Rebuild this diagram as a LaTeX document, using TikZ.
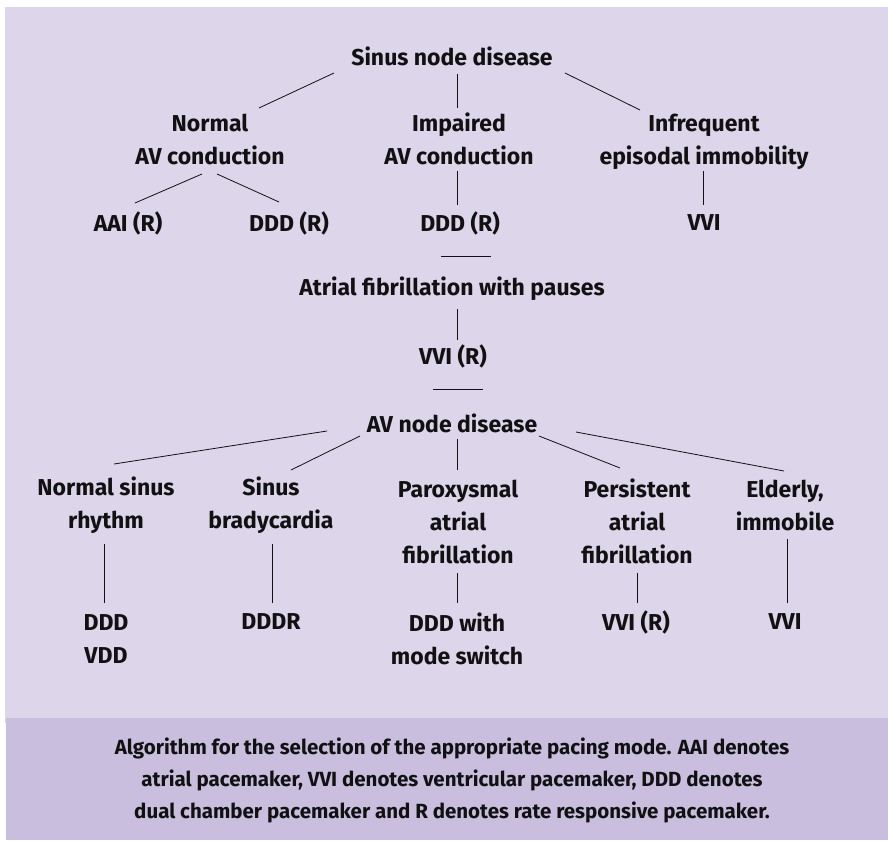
\documentclass[tikz,border=0pt]{standalone}
\usepackage{fontspec}
\setmainfont{Fira Sans}
\definecolor{bgl}{HTML}{DDD5E9}
\definecolor{bgd}{HTML}{C9BEDD}
\definecolor{ink}{HTML}{111111}
\begin{document}
\begin{tikzpicture}[x=1pt,y=-1pt,
  lbl/.style={font=\bfseries\fontsize{23}{33}\selectfont, align=center, inner sep=0pt, text=ink},
  captext/.style={font=\bfseries\fontsize{20.5}{32}\selectfont, align=center, inner sep=0pt, text=ink},
  ln/.style={line width=0.8pt, draw=ink}]
\useasboundingbox (0,0) rectangle (888,840);
\fill[bgl] (5,7) rectangle (888,723);
\fill[bgd] (6,718) rectangle (888,840);
% nodes
\node[lbl] (sinus) at (452,56) {Sinus node disease};
\node[lbl] (normal) at (210,139) {Normal\\AV conduction};
\node[lbl] (impaired) at (459,139) {Impaired\\AV conduction};
\node[lbl] (infreq) at (704,142) {Infrequent\\episodal immobility};
\node[lbl] (aai) at (128,223) {AAI (R)};
\node[lbl] (dddl) at (289,223) {DDD (R)};
\node[lbl] (dddm) at (460,223) {DDD (R)};
\node[lbl] (vvia) at (704,223) {VVI};
\node[lbl] (af) at (452,289) {Atrial fibrillation with pauses};
\node[lbl] (vvir) at (453,356) {VVI (R)};
\node[lbl] (avnode) at (452,423) {AV node disease};
\node[lbl] (nsr) at (106,505) {Normal sinus\\rhythm};
\node[lbl] (sb) at (271,505) {Sinus\\bradycardia};
\node[lbl] (parox) at (458,522) {Paroxysmal\\atrial\\fibrillation};
\node[lbl] (pers) at (637,521) {Persistent\\atrial\\fibrillation};
\node[lbl] (eld) at (785,505) {Elderly,\\immobile};
\node[lbl] (ddd) at (106,639) {DDD\\VDD};
\node[lbl] (dddr) at (271,622) {DDDR};
\node[lbl] (dddw) at (457,639) {DDD with\\mode switch};
\node[lbl] (vvirb) at (636,622) {VVI (R)};
\node[lbl] (vvib) at (785,622) {VVI};
\node[captext] (caption) at (452,780) {Algorithm for the selection of the appropriate pacing mode. AAI denotes\\atrial pacemaker, VVI denotes ventricular pacemaker, DDD denotes\\dual chamber pacemaker and R denotes rate responsive pacemaker.};
% separators
\draw[ln] ([shift={(-19,33)}]dddm.center) -- ([shift={(31,33)}]dddm.center);
\draw[ln] ([shift={(-20,33)}]vvir.center) -- ([shift={(30,33)}]vvir.center);
% connectors
\draw[ln] ([shift={(-118,17)}]sinus.center) -- ([shift={(49,-31)}]normal.center);
\draw[ln] ([shift={(5,18)}]sinus.center) -- ([shift={(-2,-31)}]impaired.center);
\draw[ln] ([shift={(113,17)}]sinus.center) -- ([shift={(-64,-32)}]infreq.center);
\draw[ln] ([shift={(-8,35)}]normal.center) -- ([shift={(7,-20)}]aai.center);
\draw[ln] ([shift={(7,35)}]normal.center) -- ([shift={(-10,-21)}]dddl.center);
\draw[ln] ([shift={(-2,32)}]impaired.center) -- ([shift={(-3,-18)}]dddm.center);
\draw[ln] ([shift={(-1,29)}]infreq.center) -- ([shift={(-1,-18)}]vvia.center);
\draw[ln] ([shift={(5,20)}]af.center) -- ([shift={(4,-16)}]vvir.center);
\draw[ln] ([shift={(-125,8)}]avnode.center) -- ([shift={(8,-41)}]nsr.center);
\draw[ln] ([shift={(-92,13)}]avnode.center) -- ([shift={(20,-35)}]sb.center);
\draw[ln] ([shift={(5,16)}]avnode.center) -- ([shift={(-1,-52)}]parox.center);
\draw[ln] ([shift={(87,13)}]avnode.center) -- ([shift={(-17,-53)}]pers.center);
\draw[ln] ([shift={(124,9)}]avnode.center) -- ([shift={(-1,-34)}]eld.center);
\draw[ln] ([shift={(-2,39)}]nsr.center) -- ([shift={(-2,-36)}]ddd.center);
\draw[ln] ([shift={(1,39)}]sb.center) -- ([shift={(1,-19)}]dddr.center);
\draw[ln] ([shift={(-1,51)}]parox.center) -- ([shift={(0,-36)}]dddw.center);
\draw[ln] ([shift={(0,52)}]pers.center) -- ([shift={(1,-19)}]vvirb.center);
\draw[ln] ([shift={(2,34)}]eld.center) -- ([shift={(2,-19)}]vvib.center);
\end{tikzpicture}
\end{document}
